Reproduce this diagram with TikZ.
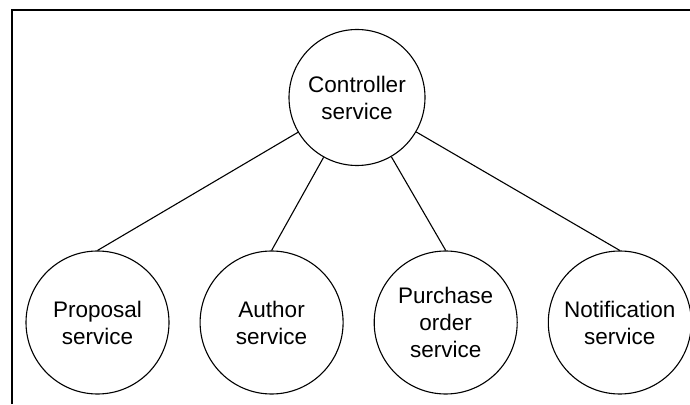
\documentclass[tikz,border=0pt]{standalone}
\usepackage{fontspec}
\setmainfont{Liberation Sans}
\usepackage{tikz}
\usetikzlibrary{positioning}
\tikzset{svc-line/.style={line width=1.1pt}}
\tikzset{frame-line/.style={line width=2pt}}
\tikzset{svc-node/.style={draw, circle, svc-line, inner sep=0, minimum size=143pt, align=center, font=\fontsize{22.5}{27}\selectfont}}

\begin{document}
\begin{tikzpicture}[x=1pt, y=1pt]
    \useasboundingbox (0,0) rectangle (690,404);
    \draw[frame-line] (12,0) |- (690,393.5);

    \node[svc-node, minimum size=136pt] (controller) at (357,306.5) {Controller\\service};

    \node[svc-node] (proposal) at (97.5,81.5) {Proposal\\service};
    \node[svc-node, right=30pt of proposal] (author) {Author\\service};
    \node[svc-node, right=30pt of author] (purchase) {Purchase\\order\\service};
    \node[svc-node, right=30pt of purchase] (notification) {Notification\\service};

    \foreach \svc in {proposal, author, purchase, notification}
        \draw[svc-line] (controller) -- (\svc.north);
\end{tikzpicture}
\end{document}
